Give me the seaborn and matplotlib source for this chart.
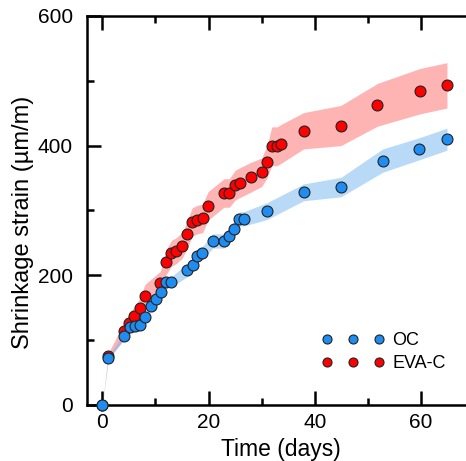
import numpy as np
import matplotlib
matplotlib.use("Agg")
import matplotlib.pyplot as plt
import seaborn as sns
from matplotlib.lines import Line2D

# ------------------------------------------------------------
# data
oc_days = [0, 1.1, 4.1, 5.2, 6.1, 7.1, 8.0, 9.1, 10.1, 11.0, 12.0, 13.0, 16.0, 17.0,
           17.9, 18.8, 20.8, 22.9, 23.9, 24.8, 25.8, 26.6, 31.0, 37.9, 44.9, 52.8,
           59.6, 64.9]
oc_strain = [0, 72, 107, 120, 122, 124, 135, 152, 164, 175, 190, 190, 208, 216,
             230, 234, 253, 253, 261, 272, 287, 287, 299, 328, 336, 377, 395, 410]
oc_err = [0, 3, 5, 6, 6, 6, 6, 7, 8, 8, 8, 8, 10, 10,
          10, 10, 11, 11, 11, 11, 11, 11, 13, 13, 15, 18, 17, 17]

eva_days = [0, 1.1, 4.1, 5.1, 6.0, 7.1, 8.0, 10.9, 12.0, 13.0, 13.9, 15.0, 16.0,
            16.9, 17.9, 18.9, 19.9, 22.9, 23.9, 25.0, 25.9, 27.9, 30.0, 31.0,
            31.9, 32.9, 33.7, 37.9, 44.9, 51.8, 59.8, 64.9]
eva_strain = [0, 76, 114, 127, 137, 149, 168, 188, 220, 234, 238, 246, 263,
              282, 286, 288, 307, 327, 327, 339, 343, 351, 359, 375,
              399, 399, 403, 423, 431, 463, 484, 493]
eva_err = [0, 4, 13, 14, 15, 16, 18, 18, 19, 20, 20, 20, 21,
           22, 22, 22, 22, 22, 22, 23, 23, 23, 22, 25,
           30, 30, 30, 28, 31, 33, 35, 35]

# ------------------------------------------------------------
plt.rcParams['font.family'] = ['Liberation Sans', 'DejaVu Sans']

fig = plt.figure(figsize=(4.66, 4.61), dpi=100)
ax = fig.add_axes([0.1867, 0.1215, 0.8306, 0.8438])

eva_lo = np.array(eva_strain) - np.array(eva_err)
eva_hi = np.array(eva_strain) + np.array(eva_err)
oc_lo = np.array(oc_strain) - np.array(oc_err)
oc_hi = np.array(oc_strain) + np.array(oc_err)

ax.fill_between(eva_days, eva_lo, eva_hi, color='#FF6B6B', alpha=0.5, lw=0)
ax.fill_between(oc_days, oc_lo, oc_hi, color='#74B6F0', alpha=0.5, lw=0)

sns.scatterplot(x=eva_days, y=eva_strain, color='#FF0000', edgecolor='#222222',
                linewidth=0.8, s=62, ax=ax, zorder=3, legend=False, clip_on=False)
sns.scatterplot(x=oc_days, y=oc_strain, color='#1E8CF0', edgecolor='#222222',
                linewidth=0.8, s=62, ax=ax, zorder=4, legend=False, clip_on=False)

ax.set_xlim(-2.9, 70)
ax.set_ylim(0, 600)
ax.set_xticks([0, 20, 40, 60])
ax.set_xticks([10, 30, 50, 70], minor=True)
ax.set_yticks([0, 200, 400, 600])
ax.set_yticks([100, 300, 500], minor=True)

for side in ['left', 'bottom', 'top']:
    ax.spines[side].set_linewidth(1.8)
ax.spines['right'].set_visible(False)

ax.tick_params(which='major', direction='in', length=10, width=1.8,
               top=True, right=False, labelsize=15)
ax.tick_params(which='minor', direction='in', length=5, width=1.8,
               top=True, right=False)
ax.tick_params(axis='y', which='major', pad=10)
ax.tick_params(axis='x', which='major', pad=6)

ax.set_xlabel('Time (days)', fontsize=16.5, labelpad=4)
ax.set_ylabel('Shrinkage strain (µm/m)', fontsize=17, labelpad=3)
ax.yaxis.label.set_y(0.47)

handles = [
    Line2D([], [], ls='none', marker='o', markersize=6.5, markerfacecolor='#1E8CF0',
           markeredgecolor='#222222', markeredgewidth=0.8),
    Line2D([], [], ls='none', marker='o', markersize=6.5, markerfacecolor='#FF0000',
           markeredgecolor='#222222', markeredgewidth=0.8),
]
fig.legend(handles, ['OC', 'EVA-C'], numpoints=3, frameon=False, fontsize=13,
           loc='center left', bbox_to_anchor=(0.671, 0.236), handlelength=3.48,
           handletextpad=0.42, labelspacing=0.35, borderpad=0)

fig.savefig('out.png', dpi=100)
